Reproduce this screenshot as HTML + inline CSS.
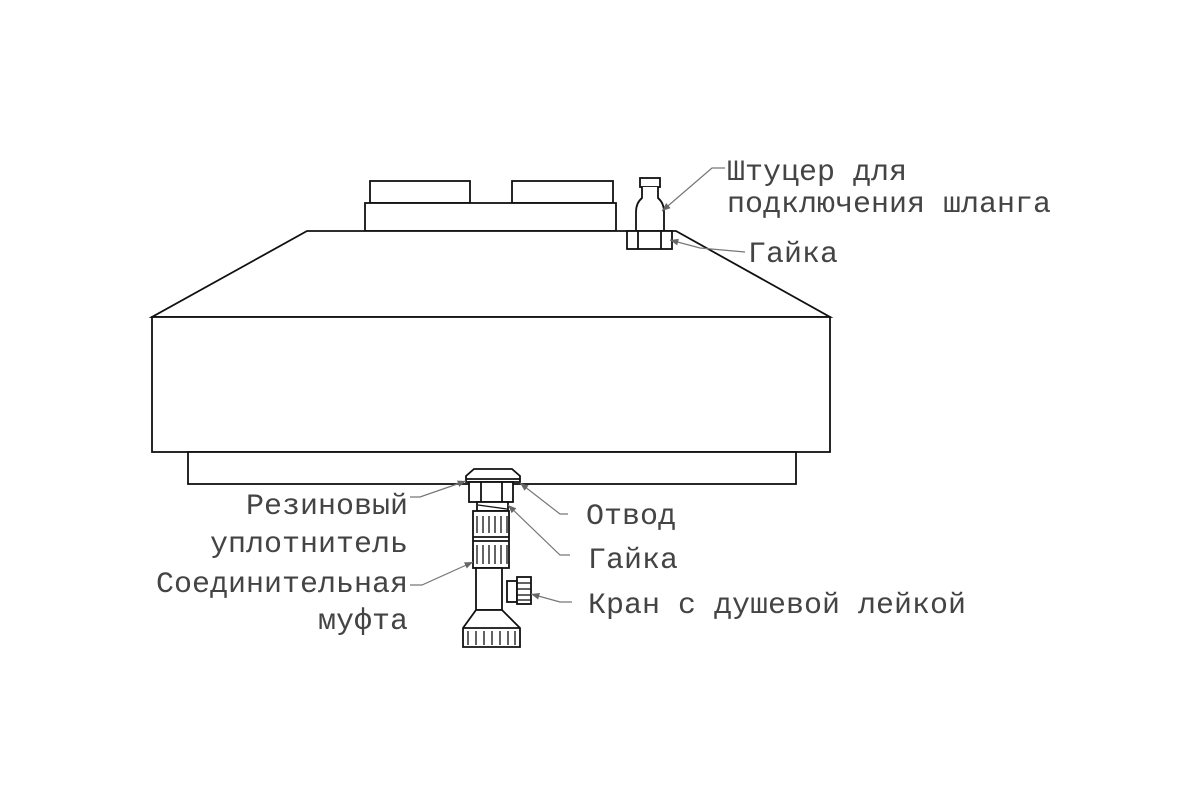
<!DOCTYPE html>
<html><head><meta charset="utf-8"><style>html,body{margin:0;padding:0;background:#fff;width:1200px;height:800px;overflow:hidden}</style></head>
<body>
<svg width="1200" height="800" viewBox="0 0 1200 800" xmlns="http://www.w3.org/2000/svg">
<defs><marker id="a" viewBox="0 0 10 10" refX="10" refY="5" markerWidth="7" markerHeight="7" orient="auto"><path d="M0,1 L10,5 L0,9 z" fill="#666"/></marker></defs>
<g fill="#fff" stroke="#111" stroke-width="1.8">
<rect x="370" y="181" width="100" height="22"/>
<rect x="512" y="181" width="101" height="22"/>
<rect x="365" y="203" width="251" height="28"/>
<path d="M307,231 L676,231 L830,317 L152,317 Z"/>
<rect x="152" y="317" width="678" height="135"/>
<rect x="188" y="452" width="608" height="32"/>
<rect x="640" y="178" width="20" height="9"/>
<path d="M642,187 L642,198 Q636,203 636,212 L636,231 L664,231 L664,212 Q664,203 658,198 L658,187"/>
<rect x="627" y="231" width="45" height="18"/>
<line x1="638" y1="231" x2="638" y2="249"/><line x1="661" y1="231" x2="661" y2="249"/>
<path d="M466,482 L466,476 L474,469 L512,469 L520,476 L520,482 Z"/>
<line x1="466" y1="479" x2="520" y2="479"/>
<rect x="469" y="482" width="44" height="20"/>
<line x1="481" y1="482" x2="481" y2="502"/><line x1="502" y1="482" x2="502" y2="502"/>
<rect x="477" y="502" width="31" height="9"/>
<rect x="473" y="511" width="36" height="57"/>
<line x1="473" y1="537" x2="509" y2="537"/><line x1="473" y1="541" x2="509" y2="541"/>
<rect x="476" y="568" width="26" height="42"/>
<rect x="507" y="581" width="10" height="21"/>
<rect x="517" y="577" width="14" height="27"/>
<path d="M476,610 L502,610 L520,628 L520,647 L463,647 L463,628 Z"/>
<line x1="463" y1="628" x2="520" y2="628"/>
</g>
<g stroke="#111" stroke-width="1.3">
<line x1="477" y1="516" x2="477" y2="533"/><line x1="483" y1="516" x2="483" y2="533"/><line x1="489" y1="516" x2="489" y2="533"/><line x1="495" y1="516" x2="495" y2="533"/><line x1="501" y1="516" x2="501" y2="533"/><line x1="507" y1="516" x2="507" y2="533"/>
<line x1="477" y1="545" x2="477" y2="564"/><line x1="483" y1="545" x2="483" y2="564"/><line x1="489" y1="545" x2="489" y2="564"/><line x1="495" y1="545" x2="495" y2="564"/><line x1="501" y1="545" x2="501" y2="564"/><line x1="507" y1="545" x2="507" y2="564"/>
<line x1="468" y1="631" x2="468" y2="645"/><line x1="476" y1="631" x2="476" y2="645"/><line x1="484" y1="631" x2="484" y2="645"/><line x1="492" y1="631" x2="492" y2="645"/><line x1="500" y1="631" x2="500" y2="645"/><line x1="508" y1="631" x2="508" y2="645"/><line x1="515" y1="631" x2="515" y2="645"/>
<line x1="517" y1="583" x2="531" y2="583"/><line x1="517" y1="589" x2="531" y2="589"/><line x1="517" y1="595" x2="531" y2="595"/><line x1="517" y1="600" x2="531" y2="600"/>
<line x1="478" y1="505" x2="507" y2="509"/>
</g>
<g stroke="#777" stroke-width="1.2" fill="none" marker-end="url(#a)">
<path d="M725,168 L712,168 L662,211"/>
<path d="M745,252 L700,248 L670,240"/>
<path d="M410,497 L420,497 L466,481"/>
<path d="M568,514 L560,514 L520,483"/>
<path d="M570,555 L560,555 L508,505"/>
<path d="M410,585 L422,585 L473,562"/>
<path d="M572,602 L560,602 L531,594"/>
</g>
<g font-family="'Liberation Mono','Noto Sans CJK SC',monospace" font-size="30" fill="#444">
<text x="727" y="180">Штуцер для</text>
<text x="727" y="212">подключения шланга</text>
<text x="748" y="262">Гайка</text>
<text x="408" y="514" text-anchor="end">Резиновый</text>
<text x="408" y="552" text-anchor="end">уплотнитель</text>
<text x="408" y="592" text-anchor="end">Соединительная</text>
<text x="408" y="629" text-anchor="end">муфта</text>
<text x="586" y="524">Отвод</text>
<text x="588" y="568">Гайка</text>
<text x="588" y="613">Кран с душевой лейкой</text>
</g>
</svg>
</body></html>
